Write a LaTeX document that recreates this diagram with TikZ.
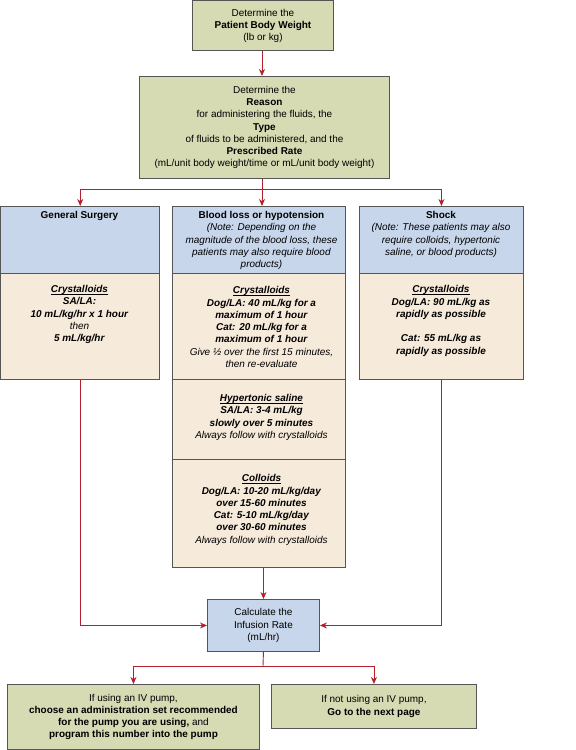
\documentclass[tikz,border=0pt]{standalone}
\usepackage{fontspec}
\setmainfont{Liberation Sans}
\usetikzlibrary{arrows.meta}
\definecolor{boxgreen}{RGB}{214,219,180}
\definecolor{boxblue}{RGB}{199,214,234}
\definecolor{boxbeige}{RGB}{246,234,218}
\definecolor{arrred}{RGB}{178,32,45}
\definecolor{edge}{RGB}{85,85,85}
\newcommand{\bi}[1]{\textbf{\textit{#1}}}
\newcommand{\ubi}[1]{\underline{\raisebox{0pt}[\height][0pt]{\textbf{\textit{#1}}}}}
\begin{document}
\begin{tikzpicture}[x=1bp,y=-1bp,
  box/.style={draw=edge, line width=0.9bp, anchor=north west, inner sep=0pt, align=center,
    font=\fontsize{10}{12.3}\selectfont},
  txt/.style={inner sep=0pt, align=center, font=\fontsize{10}{12.3}\selectfont},
  arr/.style={draw=arrred, line width=0.9bp, -{Stealth[length=7bp,width=6bp,inset=2.2bp]}},
  ln/.style={draw=arrred, line width=0.9bp}]
\useasboundingbox (0,0) rectangle (576,750);

% top boxes
\node[box, fill=boxgreen, minimum width=141bp, minimum height=49.5bp] (weight) at (192,0.5)
  {Determine the\\\textbf{Patient Body Weight}\\(lb or kg)};
\node[box, fill=boxgreen, minimum width=250bp, minimum height=102bp] (reason) at (139,76)
  {Determine the\\\textbf{Reason}\\for administering the fluids, the\\\textbf{Type}\\of fluids to be administered, and the\\\textbf{Prescribed Rate}\\(mL/unit body weight/time or mL/unit body weight)};

% left column
\node[box, fill=boxblue, minimum width=158.5bp, minimum height=67bp] (lhead) at (0.5,206) {};
\node[box, fill=boxbeige, minimum width=158.5bp, minimum height=106bp] (lbody) at (0.5,273) {};
\node[txt] (lheadt) at (79.5,216) {\textbf{General Surgery}};
\node[txt] (lbodyt) at (79.5,314.6) {\ubi{Crystalloids}\\\bi{SA/LA:}\\\bi{10 mL/kg/hr x 1 hour}\\\textit{then}\\\bi{5 mL/kg/hr}};

% middle column
\node[box, fill=boxblue, minimum width=173bp, minimum height=67bp] (mhead) at (172,206) {};
\node[box, fill=boxbeige, minimum width=173bp, minimum height=106bp] (mcrys) at (172,273) {};
\node[box, fill=boxbeige, minimum width=173bp, minimum height=80bp] (mhyp) at (172,379) {};
\node[box, fill=boxbeige, minimum width=173bp, minimum height=108bp] (mcol) at (172,459) {};
\node[txt] (mheadt) at (261.5,240.6) {\textbf{Blood loss or hypotension}\\\textit{(Note: Depending on the}\\\textit{magnitude of the blood loss, these}\\\textit{patients may also require blood}\\\textit{products)}};
\node[txt] (mcryst) at (261.5,327) {\ubi{Crystalloids}\\\bi{Dog/LA: 40 mL/kg for a}\\\bi{maximum of 1 hour}\\\bi{Cat: 20 mL/kg for a}\\\bi{maximum of 1 hour}\\\textit{Give ½ over the first 15 minutes,}\\\textit{then re-evaluate}};
\node[txt] (mhypt) at (261.5,417.5) {\ubi{Hypertonic saline}\\\bi{SA/LA: 3-4 mL/kg}\\\bi{slowly over 5 minutes}\\\textit{Always follow with crystalloids}};
\node[txt] (mcolt) at (261.5,510) {\ubi{Colloids}\\\bi{Dog/LA: 10-20 mL/kg/day}\\\bi{over 15-60 minutes}\\\bi{Cat: 5-10 mL/kg/day}\\\bi{over 30-60 minutes}\\\textit{Always follow with crystalloids}};

% right column
\node[box, fill=boxblue, minimum width=164bp, minimum height=67bp] (rhead) at (359,206) {};
\node[box, fill=boxbeige, minimum width=164bp, minimum height=106bp] (rbody) at (359,273) {};
\node[txt] (rheadt) at (441,234.5) {\textbf{Shock}\\\textit{(Note: These patients may also}\\\textit{require colloids, hypertonic}\\\textit{saline, or blood products)}};
\node[txt] (rbodyt) at (441,321) {\ubi{Crystalloids}\\\bi{Dog/LA: 90 mL/kg as}\\\bi{rapidly as possible}\\[12.3bp]\bi{Cat: 55 mL/kg as}\\\bi{rapidly as possible}};

% calculate
\node[box, fill=boxblue, minimum width=112bp, minimum height=52bp] (calc) at (207,599)
  {Calculate the\\Infusion Rate\\(mL/hr)};

% bottom
\node[box, fill=boxgreen, minimum width=252bp, minimum height=65bp] (pump) at (7,684)
  {If using an IV pump,\\\textbf{choose an administration set recommended}\\\textbf{for the pump you are using,} and\\\textbf{program this number into the pump}};
\node[box, fill=boxgreen, minimum width=205bp, minimum height=44bp] (nopump) at (271,684)
  {If not using an IV pump,\\\textbf{Go to the next page}};

% connectors
\draw[arr] (weight.south -| 262,0) -- (reason.north -| 262,0);
\coordinate (split) at (262,189);
\draw[ln] (reason.south -| split) -- (split);
\draw[arr] (split) -| (lhead.north);
\draw[arr] (split) -| (rhead.north);
\draw[arr] (split) -- (mhead.north -| split);

\draw[arr] (lbody.south) |- (calc.west);
\draw[arr] (rbody.south) |- (calc.east);
\draw[arr] (mcol.south -| calc.north) -- (calc.north);

\coordinate (split2) at (263,666);
\draw[ln] (calc.south) -- (split2);
\draw[arr] (split2) -| (pump.north);
\draw[arr] (split2) -| (nopump.north);
\end{tikzpicture}
\end{document}
